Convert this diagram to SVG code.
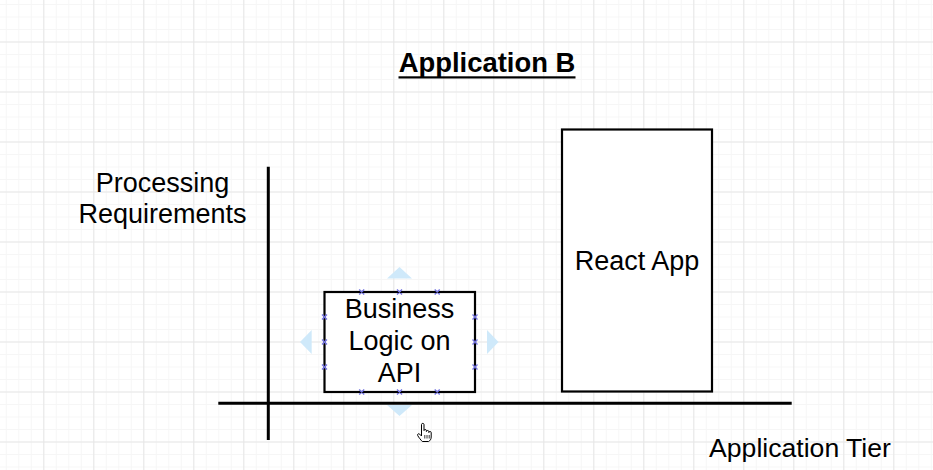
<svg xmlns="http://www.w3.org/2000/svg" width="933" height="470" viewBox="0 0 933 470">
<defs>
<pattern id="minor" x="-6.7" y="-8.5" width="12.5" height="12.5" patternUnits="userSpaceOnUse">
<path d="M0 0.5H12.5M0.5 0V12.5" fill="none" stroke="#f6f6f6" stroke-width="1"/>
</pattern>
<pattern id="major" x="-6.7" y="-8.5" width="50" height="50" patternUnits="userSpaceOnUse">
<path d="M0 0.5H50M0.5 0V50" fill="none" stroke="#e6e6e6" stroke-width="1"/>
</pattern>
</defs>
<style>
.t{font-family:"Liberation Sans",Arial,Helvetica,sans-serif;font-size:27px;fill:#000;text-anchor:middle}
.box{fill:#fff;stroke:#000;stroke-width:2.2}
.axis{stroke:#000;stroke-width:3;fill:none}
.hd{stroke:#7373e0;stroke-width:1.4;fill:none}
.arr{fill:#cfe9fa}
</style>
<rect width="933" height="470" fill="#fff"/>
<rect width="933" height="470" fill="url(#minor)"/>
<rect width="933" height="470" fill="url(#major)"/>

<g id="title">
<text x="487" y="72" class="t" style="font-weight:bold;font-size:27.4px">Application B</text>
<rect x="398.5" y="76.3" width="177" height="2.2" fill="#000"/>
</g>

<g id="axis-labels">
<text x="162.5" y="191.7" class="t">Processing</text>
<text x="162.5" y="223.3" class="t">Requirements</text>
<text x="800" y="456.7" class="t" style="font-size:26.6px">Application Tier</text>
</g>

<g id="connectors">
<line class="axis" x1="268.3" y1="166.7" x2="268.3" y2="440"/>
<line class="axis" x1="218.3" y1="403.3" x2="791.7" y2="403.3"/>
</g>

<g id="react-app">
<rect class="box" x="562" y="129.5" width="150" height="262"/>
<text x="637" y="270" class="t">React App</text>
</g>

<g id="business-logic">
<polygon class="arr" points="387,278.5 412,278.5 399.5,267"/>
<polygon class="arr" points="387,405 412,405 399.5,416"/>
<polygon class="arr" points="311.7,330 311.7,354 300,342"/>
<polygon class="arr" points="487,330 487,354 498.5,342"/>
<rect class="box" x="324.5" y="292" width="150.5" height="100"/>
<text x="399.5" y="318.3" class="t">Business</text>
<text x="399.5" y="350" class="t">Logic on</text>
<text x="399.5" y="381.7" class="t">API</text>
<g class="hd">
<path d="M359.2 289.5l5 5M364.2 289.5l-5 5M397 289.5l5 5M402 289.5l-5 5M434.7 289.5l5 5M439.7 289.5l-5 5"/>
<path d="M359.2 389.5l5 5M364.2 389.5l-5 5M397 389.5l5 5M402 389.5l-5 5M434.7 389.5l5 5M439.7 389.5l-5 5"/>
<path d="M322 314.5l5 5M327 314.5l-5 5M322 339.5l5 5M327 339.5l-5 5M322 364.5l5 5M327 364.5l-5 5"/>
<path d="M472.5 314.5l5 5M477.5 314.5l-5 5M472.5 339.5l5 5M477.5 339.5l-5 5M472.5 364.5l5 5M477.5 364.5l-5 5"/>
</g>
</g>

<g id="cursor">
<path d="M421.5 424.5c0-1.5 2.5-1.5 2.5 0v6c0-1.3 2.4-1.3 2.4 0v1c0-1.3 2.4-1.3 2.4 0v1c0-1.3 2.4-1.3 2.4 0v4.5c0 2.2-1.2 3.8-2.6 4.5h-6.3c-1.5-1.5-3.5-4-4.6-6-0.7-1.3 0.9-2.4 2-1.3l1.8 1.8z" fill="#fff" stroke="#000" stroke-width="1"/>
<path d="M424.8 435v3.5M427 435v3.5M429.2 435v3.5" stroke="#000" stroke-width="0.8"/>
</g>
</svg>
